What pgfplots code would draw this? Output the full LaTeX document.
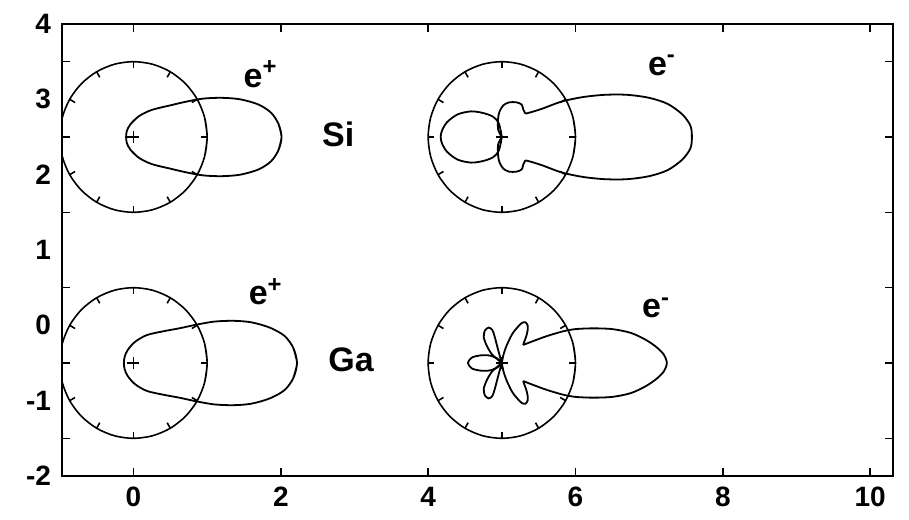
\documentclass[border=0pt]{standalone}
\usepackage{fontspec}
\setmainfont{Liberation Sans}
\usepackage{pgfplots}
\usepackage{pgfplotstable}
\pgfplotsset{compat=1.18}

% polar samples (angle in deg, radius) for the unit reference circles and their ticks
\pgfplotstableread{
t r
-15 1
0 1
15 1
30 1
45 1
60 1
75 1
90 1
105 1
120 1
135 1
150 1
165 1
180 1
195 1
210 1
225 1
240 1
255 1
270 1
285 1
300 1
315 1
330 1
345 1
360 1
375 1
}\circletab
\pgfplotstableread{
t r
0 1
30 1
60 1
90 1
120 1
150 1
180 1
210 1
240 1
270 1
300 1
330 1
}\ticktab

% Si, positron: emission pattern, offsets from the circle centre
\pgfplotstableread{
dx dy
1.97 -0.17
2.01 0
1.97 0.17
1.87 0.32
1.70 0.43
1.45 0.50
1.20 0.52
0.95 0.51
0.72 0.47
0.50 0.42
0.25 0.36
0.08 0.28
-0.04 0.17
-0.09 0.08
-0.10 0
-0.09 -0.08
-0.04 -0.17
0.08 -0.28
0.25 -0.36
0.50 -0.42
0.72 -0.47
0.95 -0.51
1.20 -0.52
1.45 -0.50
1.70 -0.43
1.87 -0.32
1.97 -0.17
2.01 0
1.97 0.17
}\siplus

% Ga, positron
\pgfplotstableread{
dx dy
2.17 -0.20
2.22 0
2.17 0.20
2.05 0.36
1.85 0.47
1.60 0.54
1.36 0.56
1.10 0.55
0.86 0.51
0.62 0.46
0.40 0.42
0.18 0.37
0.02 0.28
-0.08 0.17
-0.12 0.08
-0.13 0
-0.12 -0.08
-0.08 -0.17
0.02 -0.28
0.18 -0.37
0.40 -0.42
0.62 -0.46
0.86 -0.51
1.10 -0.55
1.36 -0.56
1.60 -0.54
1.85 -0.47
2.05 -0.36
2.17 -0.20
2.22 0
2.17 0.20
}\gaplus

% Si, electron: forward lobe, side bump (upper half) and backward lobe
\pgfplotstableread{
dx dy
0.32 0.31
0.40 0.33
0.56 0.38
0.81 0.47
1.10 0.53
1.40 0.56
1.70 0.56
2.00 0.52
2.25 0.44
2.45 0.30
2.56 0.15
2.58 0
2.56 -0.15
2.45 -0.30
2.25 -0.44
2.00 -0.52
1.70 -0.56
1.40 -0.56
1.10 -0.53
0.81 -0.47
0.56 -0.38
0.40 -0.33
0.32 -0.31
}\siminuslobe
\pgfplotstableread{
dx dy
0 0
-0.05 0.10
-0.05 0.25
-0.03 0.34
0.02 0.42
0.10 0.46
0.20 0.46
0.27 0.43
0.29 0.37
0.32 0.31
}\siminusbump
\pgfplotstableread{
dx dy
0 0
-0.04 0.18
-0.12 0.27
-0.26 0.32
-0.42 0.34
-0.60 0.30
-0.74 0.20
-0.81 0.09
-0.83 0
-0.81 -0.09
-0.74 -0.20
-0.60 -0.30
-0.42 -0.34
-0.26 -0.32
-0.12 -0.27
-0.04 -0.18
0 0
}\siminusback

% Ga, electron: forward lobe and petals
\pgfplotstableread{
dx dy
0.29 0.24
0.45 0.30
0.62 0.36
0.83 0.42
1.00 0.45
1.24 0.46
1.50 0.45
1.75 0.40
1.95 0.31
2.10 0.21
2.20 0.11
2.24 0
2.20 -0.11
2.10 -0.21
1.95 -0.31
1.75 -0.40
1.50 -0.45
1.24 -0.46
1.00 -0.45
0.83 -0.42
0.62 -0.36
0.45 -0.30
0.29 -0.24
}\gaminuslobe
\pgfplotstableread{
dx dy
0 0
0.02 0.10
0.06 0.22
0.136 0.376
0.20 0.46
0.27 0.53
0.32 0.54
0.35 0.50
0.35 0.43
0.33 0.35
0.30 0.27
0.29 0.24
}\gaminuspetal
\pgfplotstableread{
dx dy
0 0
-0.06 0.05
-0.13 0.11
-0.20 0.22
-0.245 0.34
-0.23 0.43
-0.18 0.47
-0.13 0.44
-0.10 0.36
-0.07 0.25
-0.035 0.12
0 0
}\gaminusside
\pgfplotstableread{
dx dy
0 0
-0.06 0.06
-0.17 0.10
-0.30 0.10
-0.41 0.07
-0.46 0
-0.41 -0.07
-0.30 -0.10
-0.17 -0.10
-0.06 -0.06
0 0
}\gaminusback

% reference circle of radius 1 with inward ticks every 30 degrees
\newcommand{\refcircle}[2]{%
  \addplot[smooth, line width=0.8pt] table[x expr={#1+\thisrow{r}*cos(\thisrow{t})}, y expr={#2+\thisrow{r}*sin(\thisrow{t})}] {\circletab};
  \addplot[line width=0.8pt, quiver={u={-0.085*cos(\thisrow{t})}, v={-0.085*sin(\thisrow{t})}}]
    table[x expr={#1+\thisrow{r}*cos(\thisrow{t})}, y expr={#2+\thisrow{r}*sin(\thisrow{t})}] {\ticktab};
}
% emission curve drawn at a centre; #4 = 1 or -1 mirrors it
\newcommand{\emcurve}[4]{%
  \addplot[smooth, line width=0.9pt] table[x expr={#1+\thisrow{dx}}, y expr={#2+#4*\thisrow{dy}}] {#3};
}

\begin{document}
\begin{tikzpicture}
\begin{axis}[
  scale only axis, width=415.5pt, height=226pt,
  xmin=-0.97, xmax=10.31, ymin=-2, ymax=4,
  axis line style={line width=1pt},
  xtick={0,2,4,6,8,10}, xticklabels={0,2,4,6,8,10},
  ytick={-1.5,-0.5,0.5,1.5,2.5,3.5}, yticklabels={},
  extra y ticks={-2,-1,0,1,2,3,4},
  extra y tick labels={-2,-1,0,1,2,3,4},
  extra y tick style={major tick length=0pt},
  tick align=inside, tick pos=both, major tick length=4pt,
  tick style={line width=0.8pt, black},
  ticklabel style={font=\fontsize{14}{16}\selectfont\bfseries},
  xticklabel style={yshift=-2pt},
  yticklabel style={xshift=-2pt},
]
\refcircle{0}{2.5}
\refcircle{5}{2.5}
\refcircle{0}{-0.5}
\refcircle{5}{-0.5}

\addplot[only marks, mark=+, mark size=3pt, mark options={line width=0.6pt}]
  coordinates {(0,2.5) (5,2.5) (0,-0.5) (5,-0.5)};

% Si
\emcurve{0}{2.5}{\siplus}{1}
\emcurve{5}{2.5}{\siminuslobe}{1}
\emcurve{5}{2.5}{\siminusbump}{1}
\emcurve{5}{2.5}{\siminusbump}{-1}
\emcurve{5}{2.5}{\siminusback}{1}

% Ga
\emcurve{0}{-0.5}{\gaplus}{1}
\emcurve{5}{-0.5}{\gaminuslobe}{1}
\emcurve{5}{-0.5}{\gaminuspetal}{1}
\emcurve{5}{-0.5}{\gaminuspetal}{-1}
\emcurve{5}{-0.5}{\gaminusside}{1}
\emcurve{5}{-0.5}{\gaminusside}{-1}
\emcurve{5}{-0.5}{\gaminusback}{1}

\node[anchor=base west, inner sep=0pt, font=\fontsize{17}{20}\selectfont\bfseries] at (axis cs:2.556,2.37) {Si};
\node[anchor=base west, inner sep=0pt, font=\fontsize{17}{20}\selectfont\bfseries] at (axis cs:2.64,-0.61) {Ga};
\node[anchor=base west, inner sep=0pt, font=\fontsize{17}{20}\selectfont\bfseries] at (axis cs:1.49,3.16) {e\textsuperscript{+}};
\node[anchor=base west, inner sep=0pt, font=\fontsize{17}{20}\selectfont\bfseries] at (axis cs:6.98,3.32) {e\textsuperscript{-}};
\node[anchor=base west, inner sep=0pt, font=\fontsize{17}{20}\selectfont\bfseries] at (axis cs:1.56,0.27) {e\textsuperscript{+}};
\node[anchor=base west, inner sep=0pt, font=\fontsize{17}{20}\selectfont\bfseries] at (axis cs:6.90,0.10) {e\textsuperscript{-}};
\end{axis}
\pgfresetboundingbox
\path ([xshift=-31pt,yshift=-21.5pt]current axis.south west) rectangle ([xshift=8pt,yshift=12pt]current axis.north east);
\end{tikzpicture}
\end{document}
